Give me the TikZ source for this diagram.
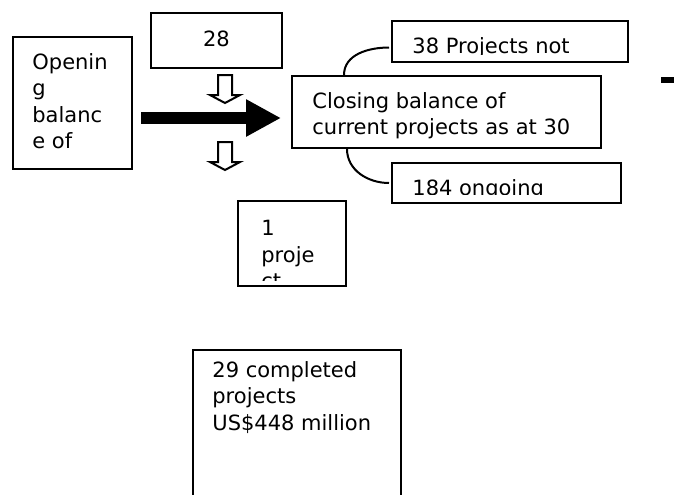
\documentclass[tikz,border=0pt]{standalone}
\usepackage{fontspec}
\setmainfont{DejaVu Sans}
\usetikzlibrary{fit,calc,arrows.meta}

\begin{document}
\begin{tikzpicture}[x=0.5pt, y=-0.5pt,
		box/.style = {draw, line width=1pt, inner sep=0pt},
		txt/.style = {inner sep=0pt, anchor=north west, align=left, font=\fontsize{10.5}{13.25}\selectfont},
		link/.style = {line width=1pt},
		bigarrow/.style = {line width=6pt, -{Triangle[length=17.5pt, width=17.5pt]}},
		hollowdown/.pic = {\draw[line width=1pt] (-7,0) -- (-7,20) -- (-15,20) -- (0,28) -- (15,20) -- (7,20) -- (7,0) -- cycle;}]
		\useasboundingbox (0,0) rectangle (674,494);
		\clip (0,0) rectangle (674,494);
		% boxes
		\node[box, fit={(13,37) (132,169)}] (1) {};
		\node[box, fit={(151,13) (282,68)}] (2) {};
		\node[box, fit={(292,76) (601,148)}] (3) {};
		\node[box, fit={(392,21) (628,62)}] (4) {};
		\node[box, fit={(392,163) (621,203)}] (5) {};
		\node[box, fit={(238,201) (346,286)}] (6) {};
		\node[box, fit={(193,350) (401,510)}] (7) {};
		% texts
		\node[txt] (1t) at ($(1.north west)+(20,17)$) {Openin\\g\\balanc\\e of};
		\node[txt, anchor=north] (2t) at ($(2.north)+(0,19)$) {28};
		\node[txt] (3t) at ($(3.north west)+(21,17)$) {Closing balance of\\current projects as at 30};
		\begin{scope}
			\clip (4.north west) rectangle ($(4.south east)+(0,-9)$);
			\node[txt] (4t) at ($(4.north west)+(21,17)$) {38 Projects not};
		\end{scope}
		\begin{scope}
			\clip (5.north west) rectangle ($(5.south east)+(0,-10)$);
			\node[txt] (5t) at ($(5.north west)+(21,17)$) {184 ongoing};
		\end{scope}
		\begin{scope}
			\clip (6.north west) rectangle ($(6.south east)+(0,-7)$);
			\node[txt] (6t) at ($(6.north west)+(24,20)$) {1\\proje\\ct};
		\end{scope}
		\node[txt] (7t) at ($(7.north west)+(20,12)$) {29 completed\\projects\\US\$448 million};
		% arrows
		\draw[bigarrow] ($(1.east)+(8,15)$) -- ($(3.west)+(-10,6)$);
		\pic at (225,75) {hollowdown};
		\pic at (225,142) {hollowdown};
		\draw[link] ($(3.north west)+(53,0)$) to[out=90, in=180] ($(4.west)+(-2,6)$);
		\draw[link] ($(3.south west)+(56,0)$) to[out=270, in=180] ($(5.west)+(-2,0)$);
		\fill (661,77) rectangle (674,83);
	\end{tikzpicture}
\end{document}
